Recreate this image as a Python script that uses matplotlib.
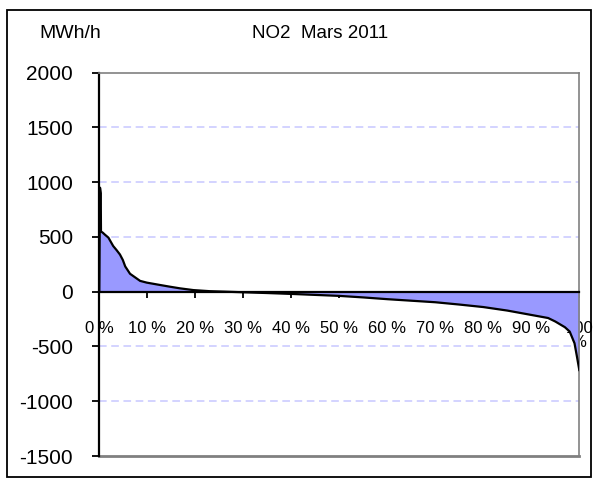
import matplotlib.pyplot as plt
from matplotlib.patches import Rectangle

plt.rcParams['font.family'] = ['Liberation Sans', 'DejaVu Sans']

# duration curve (share of hours in %, MWh/h)
share = [0, 0.15, 0.3, 0.35, 0.7, 1.2, 1.9, 2.9, 3.6, 4.3, 4.9, 5.4, 6.4, 7.4, 8.5,
         9.9, 12.6, 14.7, 16.8, 19.6, 23, 26, 30, 35, 40, 45, 50, 55, 60, 65, 70,
         75, 80, 85, 90, 92, 93.5, 95, 97, 98, 99, 99.5, 100]
flow = [0, 950, 900, 550, 540, 520, 494, 417, 380, 340, 290, 231, 164, 133, 99,
        83, 62, 46, 31, 15, 5, 1, -5, -12, -20, -29, -38, -52, -68, -82, -96,
        -117, -140, -172, -212, -228, -240, -272, -324, -364, -470, -590, -715]

yticks = [-1500, -1000, -500, 0, 500, 1000, 1500, 2000]
xticks = list(range(0, 101, 10))
xlabels = [f'{t} %' for t in xticks[:-1]] + ['100\n%']

fig = plt.figure(figsize=(5.94, 4.80), dpi=100)
fig.patches.append(Rectangle((7 / 594, 3 / 480), 584 / 594, 467 / 480,
                             transform=fig.transFigure, fill=False,
                             edgecolor='black', linewidth=1.3))

ax = fig.add_axes([99.3 / 594, 1 - 456 / 480, 480 / 594, 383.3 / 480])

for y in [-1000, -500, 500, 1000, 1500]:
    ax.axhline(y, color='#c8c8ff', linestyle=(0, (5, 3)), linewidth=1.1, zorder=0)

ax.fill_between(share, flow, 0, color='#9999ff', linewidth=0, zorder=2)
ax.plot(share, flow, color='black', linewidth=1.6, zorder=3)

ax.set_xlim(0, 100)
ax.set_ylim(-1500, 2000)
ax.set_yticks(yticks)
ax.set_yticklabels([str(t) for t in yticks])
ax.set_xticks(xticks)
ax.set_xticklabels(xlabels)

ax.spines['bottom'].set_position(('data', 0))
ax.spines['bottom'].set_linewidth(1.6)
ax.spines['bottom'].set_zorder(4)
ax.spines['left'].set_linewidth(1.6)
for s in ['top', 'right']:
    ax.spines[s].set_color('#808080')
    ax.spines[s].set_linewidth(1.2)
ax.axhline(-1500, color='#808080', linewidth=2.0, clip_on=False)

ax.tick_params(axis='y', direction='out', length=5, width=1.3, pad=14, labelsize=15)
ax.tick_params(axis='x', direction='out', length=4, width=1.3, pad=17, labelsize=12)
for lab in ax.get_xticklabels():
    lab.set_linespacing(0.9)

fig.text(70 / 594, 1 - 33 / 480, 'MWh/h', ha='center', va='center', fontsize=14)
fig.text(320 / 594, 1 - 33 / 480, 'NO2  Mars 2011', ha='center', va='center', fontsize=13.5)

fig.savefig('out.png', dpi=100)
